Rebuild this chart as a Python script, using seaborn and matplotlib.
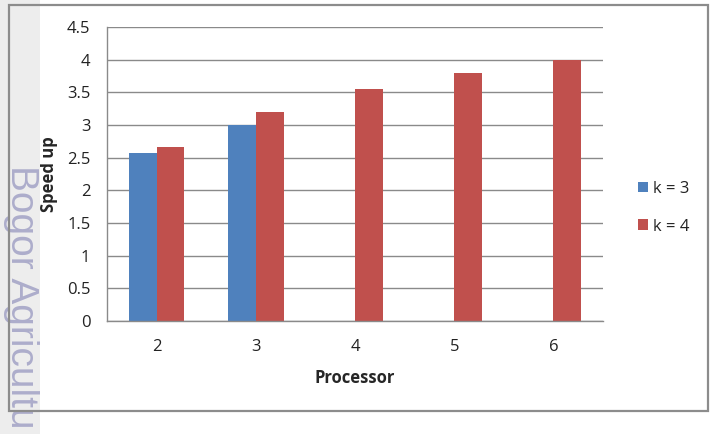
import numpy as np
import pandas as pd
import matplotlib
matplotlib.use("Agg")
import matplotlib.pyplot as plt
import seaborn as sns
from matplotlib.patches import Rectangle

# data
processors = ["2", "3", "4", "5", "6"]
k3 = [2.57, 3.0, np.nan, np.nan, np.nan]
k4 = [2.67, 3.2, 3.55, 3.8, 4.0]

df = pd.DataFrame({
    "Processor": processors * 2,
    "Speed up": k3 + k4,
    "k": ["k = 3"] * 5 + ["k = 4"] * 5,
})

sns.set_style("white")
plt.rcParams["font.family"] = ["Open Sans", "DejaVu Sans"]

fig = plt.figure(figsize=(7.11, 4.34), dpi=100)

# grey band + watermark on the left
fig.patches.append(Rectangle((0, 0), 40 / 711, 1, transform=fig.transFigure,
                             facecolor="#ededed", edgecolor="none", zorder=0))
fig.text(21 / 711, 1 - 165 / 434, "Bogor Agricultu", rotation=270, ha="center", va="top",
         fontsize=28, color="#adadcb", family=["Liberation Sans"])
# outer frame
fig.patches.append(Rectangle((9 / 711, 1 - 411 / 434), 699 / 711, 406 / 434,
                             transform=fig.transFigure, facecolor="none",
                             edgecolor="#8c8c8c", linewidth=1.6, zorder=5))

ax = fig.add_axes([107 / 711, 1 - 321 / 434, 496 / 711, 294 / 434])
sns.barplot(data=df, x="Processor", y="Speed up", hue="k", order=processors,
            palette=["#4f81bd", "#c0504d"], width=0.56, saturation=1,
            ax=ax, edgecolor="none")

ax.set_ylim(0, 4.5)
ax.set_xlim(-0.5, 4.5)
ax.set_yticks(np.arange(0, 4.51, 0.5))
ax.set_yticklabels(["0", "0.5", "1", "1.5", "2", "2.5", "3", "3.5", "4", "4.5"])
ax.yaxis.grid(True, color="#8a8a8a", linewidth=1)
ax.set_axisbelow(True)
for s in ["top", "right"]:
    ax.spines[s].set_visible(False)
for s in ["left", "bottom"]:
    ax.spines[s].set_color("#8a8a8a")
    ax.spines[s].set_linewidth(1)

ax.tick_params(axis="y", length=6, color="#8a8a8a", labelsize=12, labelcolor="#222222", pad=6)
ax.tick_params(axis="x", which="major", length=0, labelsize=12, labelcolor="#222222", pad=13)
ax.set_xticks(np.arange(-0.5, 5, 1), minor=True)
ax.tick_params(axis="x", which="minor", length=5, color="#8a8a8a")

ax.set_xlabel("Processor", fontsize=12, fontweight="bold", labelpad=10)
ax.set_ylabel("Speed up", fontsize=12, fontweight="bold", labelpad=6)

leg = ax.legend(loc="center left", bbox_to_anchor=(1.04, 0.385), frameon=False,
                fontsize=12, handlelength=0.6, handleheight=0.6, handletextpad=0.3,
                labelspacing=1.3)
for t in leg.get_texts():
    t.set_color("#222222")

fig.savefig("out.png", dpi=100)
